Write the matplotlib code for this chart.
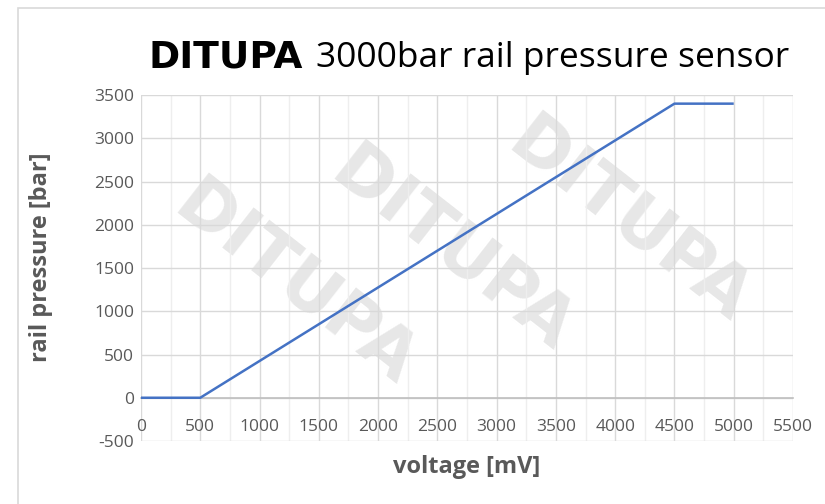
import matplotlib.pyplot as plt
from matplotlib.patches import Rectangle
from matplotlib.ticker import MultipleLocator

plt.rcParams['font.family'] = ['Open Sans', 'DejaVu Sans']
plt.rcParams['axes.unicode_minus'] = False

# sensor characteristic
voltage_mv = [0, 500, 4500, 5000]
pressure_bar = [0, 0, 3400, 3400]

x_ticks = [0, 500, 1000, 1500, 2000, 2500, 3000, 3500, 4000, 4500, 5000, 5500]
y_ticks = [-500, 0, 500, 1000, 1500, 2000, 2500, 3000, 3500]

# watermark positions (in data units)
wm_x = [1300, 2620, 4120]
wm_y = [1300, 1700, 2030]

grey_txt = '#595959'
grid_col = '#d9d9d9'

fig = plt.figure(figsize=(8.25, 5.04), dpi=100)
ax = fig.add_axes([0.1709, 0.125, 0.7903, 0.6865])

# chart border like the excel chart area
fig.patches.append(Rectangle((18 / 825, -0.1), 1.2, 1.1 - 8 / 504,
                             transform=fig.transFigure, fill=False,
                             edgecolor='#d9d9d9', linewidth=1.2))

ax.plot(voltage_mv, pressure_bar, color='#4472C4', linewidth=1.8, zorder=3,
        solid_capstyle='butt')

for wx, wy in zip(wm_x, wm_y):
    ax.text(wx, wy, 'DITUPA', fontsize=50, fontweight='heavy', family='DejaVu Sans',
            color='#e3e3e3', alpha=0.85, rotation=-38, rotation_mode='anchor',
            ha='center', va='center', zorder=0.1)

ax.set_xlim(0, 5500)
ax.set_ylim(-500, 3500)
ax.set_xticks(x_ticks)
ax.set_yticks(y_ticks)
ax.xaxis.set_minor_locator(MultipleLocator(250))
ax.set_axisbelow(True)
ax.grid(which='major', color=grid_col, linewidth=1.0)
ax.grid(which='minor', axis='x', color='#eeeeee', linewidth=1.0)

for s in ['top', 'right', 'left']:
    ax.spines[s].set_visible(False)
ax.spines['bottom'].set_position(('data', 0))
ax.spines['bottom'].set_color('#bfbfbf')
ax.spines['bottom'].set_linewidth(1.2)

ax.tick_params(which='both', length=0)
ax.tick_params(axis='x', pad=15, labelsize=12.5, labelcolor=grey_txt)
ax.tick_params(axis='y', pad=5, labelsize=12.5, labelcolor=grey_txt)

ax.set_xlabel('voltage [mV]', fontsize=17, fontweight='bold', color=grey_txt)
ax.xaxis.set_label_coords(0.5, -0.04)
ax.set_ylabel('rail pressure [bar]', fontsize=17, fontweight='bold', color=grey_txt)
ax.yaxis.set_label_coords(-0.135, 0.53)

fig.text(148 / 825, 1 - 57 / 504, 'DITUPA', fontsize=27, fontweight='heavy',
         family='DejaVu Sans', color='black', va='center', ha='left')
fig.text(316 / 825, 1 - 58 / 504, '3000bar rail pressure sensor', fontsize=25.5,
         color='black', va='center', ha='left')

fig.savefig('out.png', dpi=100, facecolor='white')
